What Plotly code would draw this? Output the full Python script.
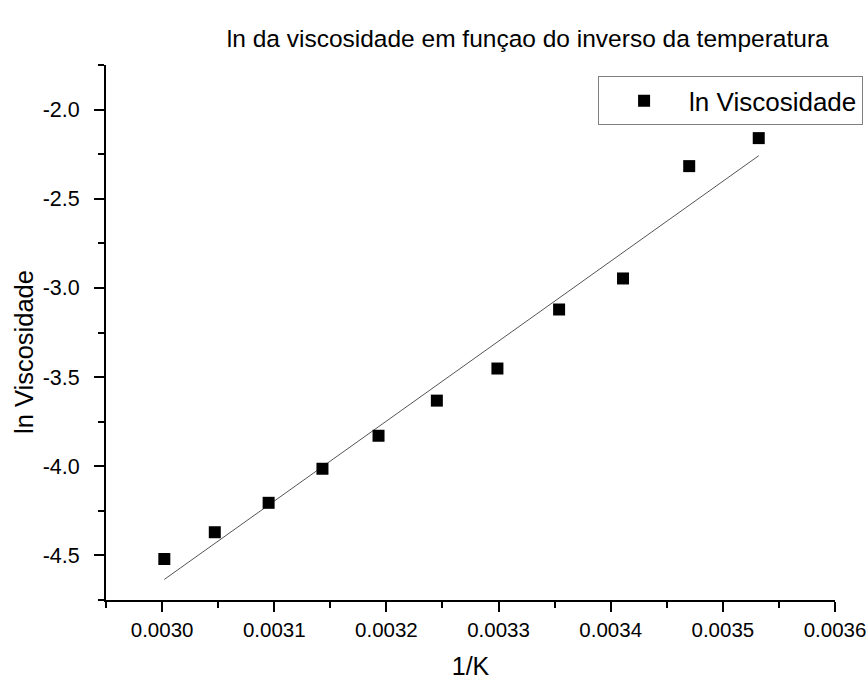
import numpy as np
import plotly.graph_objects as go

# data
inv_T = [0.003002, 0.003047, 0.003095, 0.003143, 0.003193, 0.003245,
         0.003299, 0.003354, 0.003411, 0.003470, 0.003532]
ln_visc = [-4.52, -4.37, -4.205, -4.014, -3.829, -3.632,
           -3.452, -3.121, -2.947, -2.317, -2.160]

x_tickvals = [0.0030, 0.0031, 0.0032, 0.0033, 0.0034, 0.0035, 0.0036]
x_ticktext = ["0.0030", "0.0031", "0.0032", "0.0033", "0.0034", "0.0035", "0.0036"]
y_tickvals = [-4.5, -4.0, -3.5, -3.0, -2.5, -2.0]
y_ticktext = ["-4.5", "-4.0", "-3.5", "-3.0", "-2.5", "-2.0"]

# linear fit of the data
slope, intercept = np.polyfit(inv_T, ln_visc, 1)
fit_x = [min(inv_T), max(inv_T)]
fit_y = [slope * v + intercept for v in fit_x]

FONT = "Liberation Sans"

fig = go.Figure()
fig.add_trace(go.Scatter(
    x=fit_x, y=fit_y, mode="lines",
    line=dict(color="#555555", width=1),
    showlegend=False, hoverinfo="skip"))
fig.add_trace(go.Scatter(
    x=inv_T, y=ln_visc, mode="markers", name="ln Viscosidade",
    marker=dict(symbol="square", size=12, color="black")))

axis_common = dict(
    showgrid=False, zeroline=False, showline=True, linecolor="black",
    linewidth=2, ticks="outside", ticklen=10, tickwidth=2, tickcolor="black",
    automargin=False,
    title_font=dict(family=FONT, size=25, color="black"),
)

fig.update_layout(
    width=868, height=681,
    margin=dict(l=106, r=33, t=65, b=81, autoexpand=False),
    paper_bgcolor="white", plot_bgcolor="white",
    title=dict(text="ln da viscosidade em funçao do inverso da temperatura",
               x=0.608, xanchor="center", xref="container",
               y=1 - 38 / 681, yanchor="middle", yref="container",
               font=dict(family=FONT, size=24.5, color="black")),
    xaxis=dict(range=[0.00295, 0.0036], tickvals=x_tickvals, ticktext=x_ticktext,
               tickfont=dict(family=FONT, size=20.5, color="black"),
               title=dict(text="1/K", standoff=18),
               minor=dict(ticks="outside", ticklen=6, tickwidth=2, tickcolor="black",
                          dtick=0.00005, tick0=0.0030, showgrid=False),
               **axis_common),
    yaxis=dict(range=[-4.75, -1.75], tickvals=y_tickvals, ticktext=y_ticktext,
               tickfont=dict(family=FONT, size=21.5, color="black"),
               ticklabelstandoff=10,
               minor=dict(ticks="outside", ticklen=6, tickwidth=2, tickcolor="black",
                          dtick=0.25, tick0=-4.75, showgrid=False),
               **axis_common),
    annotations=[dict(text="ln Viscosidade", textangle=-90, showarrow=False,
                      xref="paper", yref="paper",
                      x=(24 - 106) / 729, y=(600 - 352) / 535,
                      xanchor="center", yanchor="middle",
                      font=dict(family=FONT, size=25.5, color="black"))],
    legend=dict(x=0.675, y=0.979, xanchor="left", yanchor="top",
                bordercolor="#808080", borderwidth=1, bgcolor="white",
                font=dict(family=FONT, size=26, color="black"),
                itemwidth=80, tracegroupgap=0),
    showlegend=True,
)

fig.write_html("out.html")
